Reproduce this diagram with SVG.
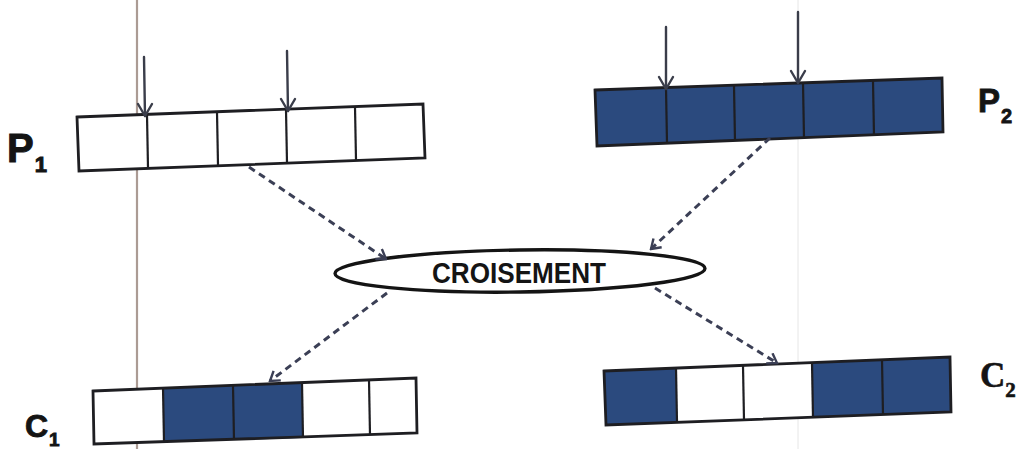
<svg xmlns="http://www.w3.org/2000/svg" width="1026" height="449" viewBox="0 0 1026 449">
  <style>
    .frame { fill: none; stroke: #1e1e22; stroke-width: 2.8; stroke-linejoin: miter; }
    .cell-on { fill: #2b4a7e; stroke: none; }
    .cell-off { fill: #ffffff; stroke: none; }
    .div { stroke: #1e1e22; stroke-width: 2.2; }
    .cut { stroke: #3a3d4a; stroke-width: 2.4; fill: none; stroke-linecap: round; stroke-linejoin: round; }
    .flow { stroke: #3b3f55; stroke-width: 3; stroke-dasharray: 7 5; fill: none; }
    .label { font-family: "Liberation Sans", "DejaVu Sans", sans-serif; font-weight: bold; fill: #141414; }
    .label-serif { font-family: "Liberation Serif", "DejaVu Serif", serif; font-weight: bold; fill: #141414; }
  </style>
  <defs>
    <marker id="flowHead" viewBox="0 0 14 14" refX="12" refY="7" markerWidth="14" markerHeight="14" markerUnits="userSpaceOnUse" orient="auto">
      <path d="M3,1 L12,7 L3,13" fill="none" stroke="#3b3f55" stroke-width="2.4"/>
    </marker>
    <!-- open V head for the cut-point arrows, tip at the origin -->
    <path id="vHead" d="M-7,-12 L0,0 L7,-12" class="cut"/>
  </defs>

  <rect width="1026" height="449" fill="#ffffff"/>

  <!-- guide lines -->
  <line x1="137" y1="0" x2="137" y2="449" stroke="#ab9b94" stroke-width="2.2"/>
  <line x1="798" y1="0" x2="798" y2="449" stroke="#e6e6e6" stroke-width="1"/>

  <!-- parent 1 -->
  <g id="p1">
    <polygon class="cell-off" points="77,117 423,104 425,158 79,171"/>
    <line class="div" x1="147" y1="115" x2="148" y2="168"/>
    <line class="div" x1="217" y1="112" x2="218" y2="165"/>
    <line class="div" x1="286" y1="110" x2="287" y2="163"/>
    <line class="div" x1="355" y1="107" x2="356" y2="160"/>
    <polygon class="frame" points="77,117 423,104 425,158 79,171"/>
    <text class="label" x="7" y="162" font-size="40" stroke="#141414" stroke-width="1">P<tspan font-size="22" dx="1" dy="10">1</tspan></text>
  </g>

  <!-- parent 2 -->
  <g id="p2">
    <polygon class="cell-on" points="595,90 942,78 943,132 597,146"/>
    <line class="div" x1="666" y1="88" x2="667" y2="143"/>
    <line class="div" x1="734" y1="86" x2="735" y2="141"/>
    <line class="div" x1="803" y1="83" x2="804" y2="138"/>
    <line class="div" x1="873" y1="81" x2="874" y2="136"/>
    <polygon class="frame" points="595,90 942,78 943,132 597,146"/>
    <text class="label" x="978" y="112" font-size="33" stroke="#141414" stroke-width="0.8">P<tspan font-size="20" dx="1" dy="11">2</tspan></text>
  </g>

  <!-- crossover points -->
  <g id="cut-points">
    <line class="cut" x1="144" y1="57" x2="145" y2="116"/>
    <use href="#vHead" x="145" y="116"/>
    <line class="cut" x1="287" y1="51" x2="288" y2="111"/>
    <use href="#vHead" x="288" y="111"/>
    <line class="cut" x1="666" y1="27" x2="666" y2="89"/>
    <use href="#vHead" x="666" y="89"/>
    <line class="cut" x1="798" y1="12" x2="798" y2="83"/>
    <use href="#vHead" x="798" y="83"/>
  </g>

  <!-- crossover operator -->
  <g id="croisement">
    <ellipse cx="520" cy="271" rx="185" ry="21" transform="rotate(-0.8 520 271)" fill="#ffffff" stroke="#141414" stroke-width="3.4"/>
    <text class="label" x="519" y="283" font-size="29" text-anchor="middle" textLength="174" lengthAdjust="spacingAndGlyphs">CROISEMENT</text>
  </g>

  <!-- child 1 -->
  <g id="c1">
    <polygon class="cell-off" points="93,391 416,378 417,433 94,444"/>
    <polygon class="cell-on" points="163,388 302,383 303,438 164,442"/>
    <line class="div" x1="163" y1="388" x2="164" y2="442"/>
    <line class="div" x1="233" y1="386" x2="234" y2="440"/>
    <line class="div" x1="302" y1="383" x2="303" y2="438"/>
    <line class="div" x1="369" y1="380" x2="370" y2="435"/>
    <polygon class="frame" points="93,391 416,378 417,433 94,444"/>
    <text class="label" x="25" y="437" font-size="32" stroke="#141414" stroke-width="0.9">C<tspan font-size="19" dx="1" dy="9">1</tspan></text>
  </g>

  <!-- child 2 -->
  <g id="c2">
    <polygon class="cell-on" points="604,371 950,357 951,412 606,425"/>
    <polygon class="cell-off" points="676,368 812,363 813,418 677,422"/>
    <line class="div" x1="676" y1="368" x2="677" y2="422"/>
    <line class="div" x1="743" y1="366" x2="744" y2="420"/>
    <line class="div" x1="812" y1="363" x2="813" y2="418"/>
    <line class="div" x1="882" y1="360" x2="883" y2="415"/>
    <polygon class="frame" points="604,371 950,357 951,412 606,425"/>
    <text class="label-serif" x="980" y="387" font-size="35" stroke="#141414" stroke-width="0.6">C<tspan font-size="21" dy="10">2</tspan></text>
  </g>

  <!-- connectors -->
  <g id="connectors">
    <line class="flow" x1="249" y1="167" x2="386" y2="259" marker-end="url(#flowHead)"/>
    <line class="flow" x1="770" y1="138" x2="651" y2="249" marker-end="url(#flowHead)"/>
    <line class="flow" x1="387" y1="293" x2="270" y2="381" marker-end="url(#flowHead)"/>
    <line class="flow" x1="655" y1="288" x2="777" y2="363" marker-end="url(#flowHead)"/>
  </g>
</svg>
